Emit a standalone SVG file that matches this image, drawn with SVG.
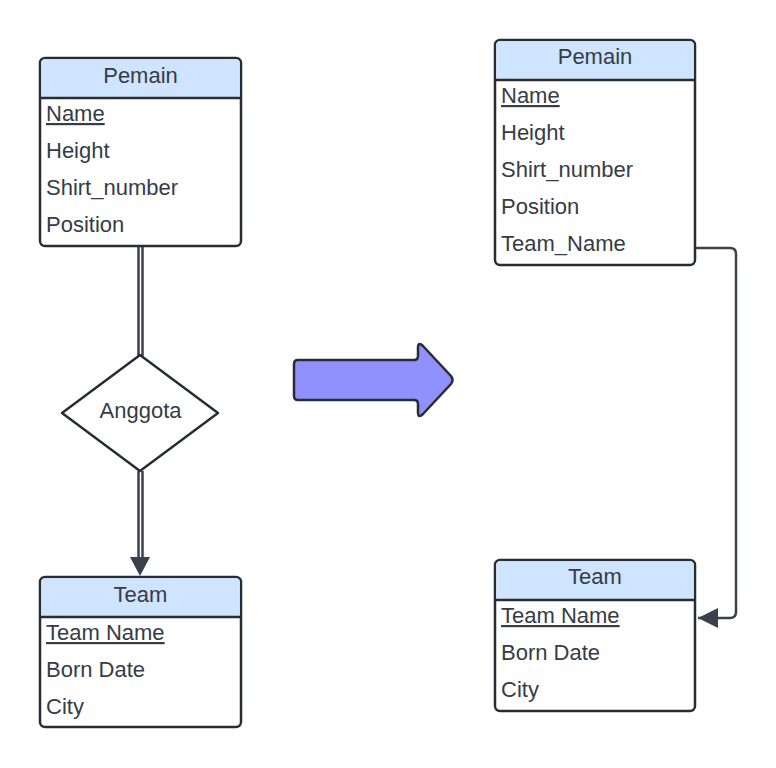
<svg xmlns="http://www.w3.org/2000/svg" width="776" height="768" viewBox="0 0 776 768">
<style>
.box{fill:#ffffff;stroke:#282c33;stroke-width:2.5}
.hdr{fill:#cfe4ff}
.sep{stroke:#282c33;stroke-width:2.5}
.t{font-family:"Liberation Sans",Arial,sans-serif;font-size:22px;fill:#363c46}
.h{text-anchor:middle}
.u{text-decoration:underline}
.ln{fill:none;stroke:#3a414b;stroke-width:2.5}
</style>
<defs>
<marker id="ah" viewBox="0 0 20 20" refX="20" refY="10" markerWidth="20" markerHeight="20" markerUnits="userSpaceOnUse" orient="auto">
<path d="M0,0 L20,10 L0,20 Z" fill="#3a414b"/>
</marker>
</defs>
<rect width="776" height="768" fill="#ffffff"/>
<g id="connectors">
<path class="ln" d="M138.5,247 V356 M142.5,247 V356"/>
<path class="ln" d="M138.5,471 V558 M142.5,471 V558"/>
<path d="M130,557 L150,557 L140,576 Z" fill="#3a414b"/>
<path class="ln" d="M696,248 H730 Q736,248 736,254 V612 Q736,618 730,618 H698" marker-end="url(#ah)"/>
</g>
<g id="pemain-left">
<rect class="box" x="40" y="58" width="201" height="188" rx="5"/>
<path class="hdr" d="M41.3,98 V63 Q41.3,59.3 45,59.3 H236 Q239.7,59.3 239.7,63 V98 Z"/>
<line class="sep" x1="40" y1="98" x2="241" y2="98"/>
<text class="t h" x="140.5" y="83">Pemain</text>
<text class="t u" x="46" y="121">Name</text>
<text class="t" x="46" y="158">Height</text>
<text class="t" x="46" y="195">Shirt_number</text>
<text class="t" x="46" y="232">Position</text>
</g>
<g id="anggota">
<path d="M140,355 L218,413 L140,471 L62,413 Z" fill="#ffffff" stroke="#282c33" stroke-width="2.5" stroke-linejoin="round"/>
<text class="t h" x="140.5" y="418">Anggota</text>
</g>
<g id="team-left">
<rect class="box" x="40" y="577" width="201" height="150" rx="5"/>
<path class="hdr" d="M41.3,617 V582 Q41.3,578.3 45,578.3 H236 Q239.7,578.3 239.7,582 V617 Z"/>
<line class="sep" x1="40" y1="617" x2="241" y2="617"/>
<text class="t h" x="140.5" y="602">Team</text>
<text class="t u" x="46" y="640">Team Name</text>
<text class="t" x="46" y="677">Born Date</text>
<text class="t" x="46" y="714">City</text>
</g>
<g id="transform-arrow">
<path d="M298,360 H414 Q418,360 418,356 V348 Q418,341 423,346 L451,376 Q454,380 451,384 L423,414 Q418,419 418,412 V404 Q418,400 414,400 H298 Q294,400 294,396 V364 Q294,360 298,360 Z" fill="#9090ff" stroke="#282c33" stroke-width="2.5" stroke-linejoin="round"/>
</g>
<g id="pemain-right">
<rect class="box" x="495" y="40" width="200" height="225" rx="5"/>
<path class="hdr" d="M496.3,80 V45 Q496.3,41.3 500,41.3 H690 Q693.7,41.3 693.7,45 V80 Z"/>
<line class="sep" x1="495" y1="80" x2="695" y2="80"/>
<text class="t h" x="595" y="64">Pemain</text>
<text class="t u" x="501" y="103">Name</text>
<text class="t" x="501" y="140">Height</text>
<text class="t" x="501" y="177">Shirt_number</text>
<text class="t" x="501" y="214">Position</text>
<text class="t" x="501" y="251">Team_Name</text>
</g>
<g id="team-right">
<rect class="box" x="495" y="560" width="200" height="151" rx="5"/>
<path class="hdr" d="M496.3,600 V565 Q496.3,561.3 500,561.3 H690 Q693.7,561.3 693.7,565 V600 Z"/>
<line class="sep" x1="495" y1="600" x2="695" y2="600"/>
<text class="t h" x="595" y="584">Team</text>
<text class="t u" x="501" y="623">Team Name</text>
<text class="t" x="501" y="660">Born Date</text>
<text class="t" x="501" y="697">City</text>
</g>
</svg>
